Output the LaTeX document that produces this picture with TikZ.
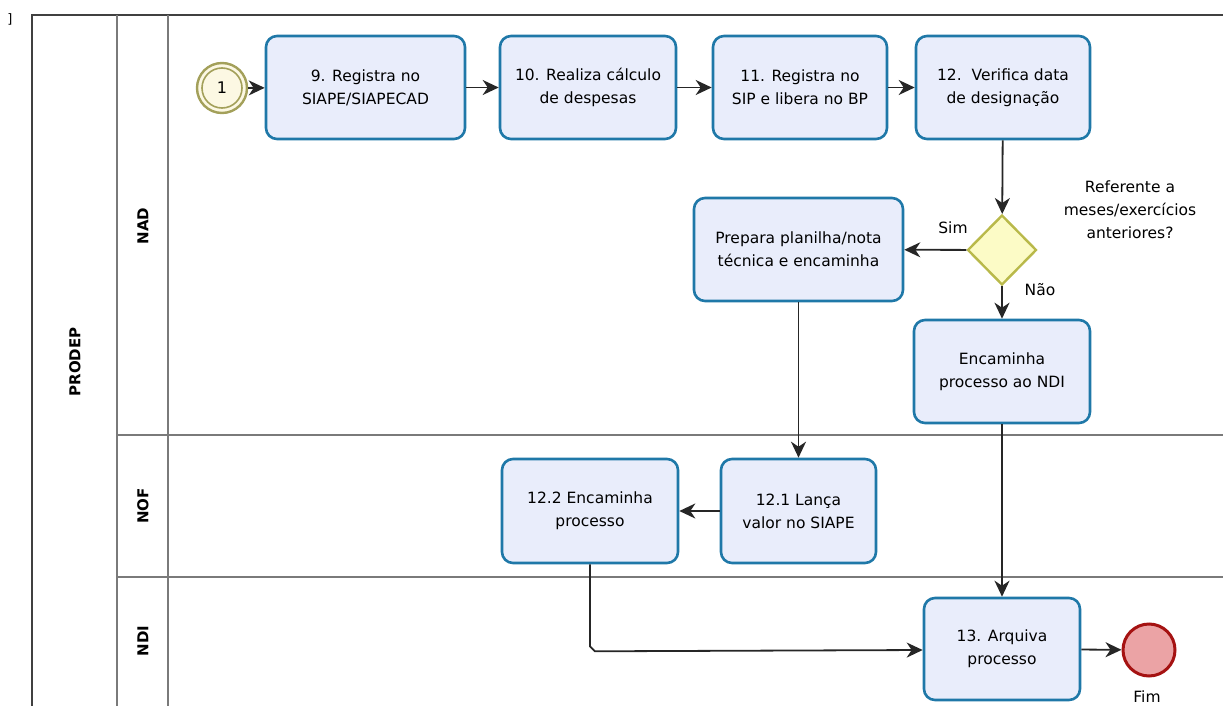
\documentclass[tikz,border=0pt]{standalone}
\usepackage{fontspec}
\setmainfont{DejaVu Sans}
\usetikzlibrary{shapes.geometric,arrows.meta}
\definecolor{taskfill}{HTML}{E9EDFB}
\definecolor{taskdraw}{HTML}{1F78A8}
\definecolor{startfill}{HTML}{FCF8E3}
\definecolor{startdraw}{HTML}{A3A05A}
\definecolor{gwfill}{HTML}{FCFBC6}
\definecolor{gwdraw}{HTML}{B9B94A}
\definecolor{endfill}{HTML}{EBA3A5}
\definecolor{enddraw}{HTML}{A51212}
\definecolor{lanegray}{HTML}{7A7A7A}
\tikzset{
  task/.style={draw=taskdraw, fill=taskfill, line width=2.6pt, rounded corners=11pt,
    align=center, font=\fontsize{15.5}{23}\selectfont, inner sep=0pt},
  flow/.style={-{Stealth[length=16pt,width=15pt,inset=5pt]}, line width=1.8pt, black!85},
  lane/.style={lanegray, line width=1.6pt},
  lanelabel/.style={rotate=90, font=\bfseries\fontsize{15}{17}\selectfont},
  txt/.style={font=\fontsize{15.5}{23}\selectfont, align=center, inner sep=0pt},
}
\begin{document}
\begin{tikzpicture}[x=1pt,y=-1pt]
\useasboundingbox (0,0) rectangle (1223,706);
% pool and lanes
\draw[black!75, line width=1.8pt] (32,706) -- (32,15) -- (1223,15);
\draw[lane] (117,15) -- (117,706);
\draw[lane] (168,15) -- (168,706);
\draw[lane] (117,435) -- (1223,435);
\draw[lane] (117,577) -- (1223,577);
\node[lanelabel] (lprodep) at (75,362) {PRODEP};
\node[lanelabel] (lnad) at (143,226) {NAD};
\node[lanelabel] (lnof) at (143,506) {NOF};
\node[lanelabel] (lndi) at (143,641) {NDI};
\node[font=\fontsize{13}{15}\selectfont, inner sep=0pt] (br) at (10,19) {]};
% start event
\node[circle, draw=startdraw, fill=startfill, line width=2.4pt, minimum size=50pt, inner sep=0pt] (start) at (222,88) {};
\node[circle, draw=startdraw, line width=1.6pt, minimum size=40pt, inner sep=0pt, font=\fontsize{16}{18}\selectfont] (startin) at (222,88) {1};
% tasks
\node[task, minimum width=199pt, minimum height=103pt] (t9) at (365.5,87.5) {9. Registra no\\SIAPE/SIAPECAD};
\node[task, minimum width=176pt, minimum height=103pt] (t10) at (588,87.5) {10. Realiza cálculo\\de despesas};
\node[task, minimum width=174pt, minimum height=103pt] (t11) at (800,87.5) {11. Registra no\\SIP e libera no BP};
\node[task, minimum width=174pt, minimum height=103pt] (t12) at (1003,87.5) {12.\ \ Verifica data\\de designação};
\node[diamond, draw=gwdraw, fill=gwfill, line width=2.4pt, minimum width=69pt, minimum height=70pt, inner sep=0pt, aspect=1] (gw) at (1002,250) {};
\node[txt] (q) at (1130,210) {Referente a\\meses/exercícios\\anteriores?};
\node[task, minimum width=209pt, minimum height=103pt] (prep) at (798.5,249.5) {Prepara planilha/nota\\técnica e encaminha};
\node[task, minimum width=176pt, minimum height=103pt] (enc) at (1002,371.5) {Encaminha\\processo ao NDI};
\node[task, minimum width=155pt, minimum height=104pt] (t121) at (798.5,511) {12.1 Lança\\valor no SIAPE};
\node[task, minimum width=176pt, minimum height=104pt] (t122) at (590,511) {12.2 Encaminha\\processo};
\node[task, minimum width=156pt, minimum height=102pt] (t13) at (1002,649) {13. Arquiva\\processo};
\node[circle, draw=enddraw, fill=endfill, line width=3pt, minimum size=52pt, inner sep=0pt] (endev) at (1149,650) {};
\node[txt] (fim) at (1147,697) {Fim};
\node[txt] (sim) at (953,228) {Sim};
\node[txt] (nao) at (1040,290) {Não};
% flows
\draw[flow] (start) -- (t9);
\draw[flow] (t9) -- (t10);
\draw[flow] (t10) -- (t11);
\draw[flow] (t11) -- (t12);
\draw[flow] (t12) -- (gw);
\draw[flow] (gw) -- (prep);
\draw[flow] (gw) -- (enc);
\draw[flow] (prep.south -| t121.north) -- (t121);
\draw[flow] (t121) -- (t122);
\draw[flow] (t122.south) -- ++(0,82) -- ++(5,5) -- (t13.west |- 0,650);
\draw[flow] (enc) -- (t13);
\draw[flow] (t13) -- (endev);
\end{tikzpicture}
\end{document}
